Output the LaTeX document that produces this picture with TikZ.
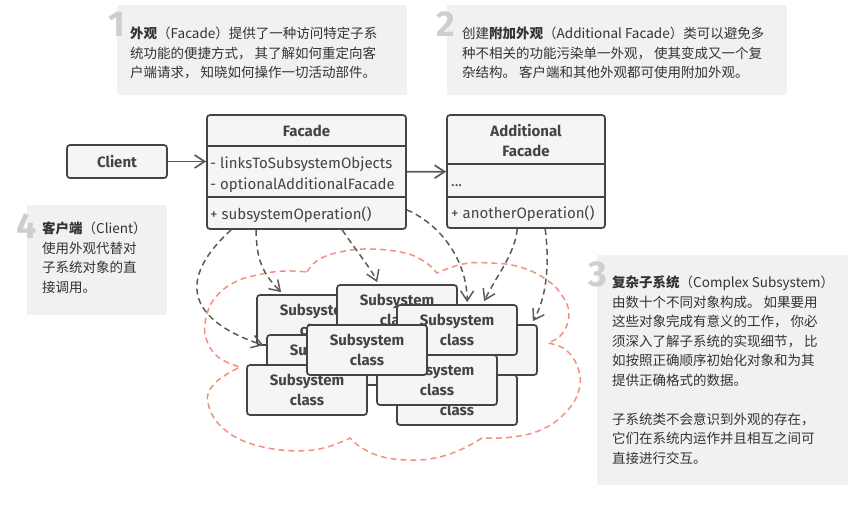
\documentclass[tikz,border=0pt]{standalone}
\usepackage{fontspec}
\setmainfont{Fira Sans}
\newfontfamily\cjk{Noto Sans CJK SC}
\usetikzlibrary{arrows.meta, calc}

\definecolor{boxline}{RGB}{68,68,68}
\definecolor{boxfill}{RGB}{245,245,245}
\definecolor{notefill}{RGB}{241,241,241}
\definecolor{notetext}{RGB}{51,51,51}
\definecolor{numgray}{RGB}{206,206,206}
\definecolor{linkgray}{RGB}{90,90,90}
\definecolor{cloudred}{RGB}{245,143,125}

\begin{document}
\begin{tikzpicture}[x=1pt, y=-1pt,
    classbox/.style={draw=boxline, fill=boxfill, line width=1.7pt, rounded corners=3pt,
        inner sep=0pt, text=boxline, font=\fontsize{15}{20}\selectfont\bfseries, align=center},
    subbox/.style={classbox, minimum width=120pt, minimum height=50pt},
    title/.style={inner sep=0pt, text=boxline, font=\fontsize{15}{20}\selectfont\bfseries, align=center},
    member/.style={inner sep=0pt, anchor=west, text=boxline, font=\fontsize{15}{21}\selectfont, align=left},
    sepline/.style={draw=boxline, line width=1.7pt},
    notetxt/.style={inner sep=0pt, anchor=north west, text=notetext,
        font=\cjk\fontsize{13.5}{19.5}\selectfont, align=left},
    notenum/.style={inner sep=0pt, anchor=base east, text=numgray, font=\fontsize{36}{36}\selectfont\bfseries},
    uses/.style={draw=linkgray, line width=1.7pt, -{Straight Barb[length=10pt,width=13pt]}},
    calls/.style={uses, line width=1.5pt, dash pattern=on 6pt off 4pt},
    cloudline/.style={draw=cloudred, line width=1.5pt, dash pattern=on 6pt off 4pt},
]
    \useasboundingbox (0,0) rectangle (848,504);

    % Notes
    \fill[notefill] (117,5) rectangle (407,95);
    \fill[notefill] (447,5) rectangle (787,95);
    \fill[notefill] (27,205) rectangle (167,315);
    \fill[notefill] (597,255) rectangle (848,485);

    \node[notenum] (num1) at (125,36) {1};
    \node[notenum] (num2) at (455,36) {2};
    \node[notenum] (num4) at (37,238) {4};
    \node[notenum] (num3) at (607,286) {3};

    \node[notetxt] (note1) at (130,27) {\textbf{外观}（Facade）提供了一种访问特定子系\\
        统功能的便捷方式， 其了解如何重定向客\\
        户端请求， 知晓如何操作一切活动部件。};
    \node[notetxt] (note2) at (462,27) {创建\textbf{附加外观}（Additional Facade）类可以避免多\\
        种不相关的功能污染单一外观， 使其变成又一个复\\
        杂结构。 客户端和其他外观都可使用附加外观。};
    \node[notetxt] (note4) at (42,222) {\textbf{客户端}（Client）\\
        使用外观代替对\\
        子系统对象的直\\
        接调用。};
    \node[notetxt] (note3) at (612,276) {\textbf{复杂子系统}（Complex Subsystem）\\
        由数十个不同对象构成。 如果要用\\
        这些对象完成有意义的工作， 你必\\
        须深入了解子系统的实现细节， 比\\
        如按照正确顺序初始化对象和为其\\
        提供正确格式的数据。\\[19.5pt]
        子系统类不会意识到外观的存在，\\
        它们在系统内运作并且相互之间可\\
        直接进行交互。};

    % Subsystem cloud
    \draw[cloudline] plot[smooth, tension=0.7] coordinates {(307,272) (318,260) (340,252) (370,249) (405,253) (425,262) (437,273)}
        -- plot[smooth, tension=0.7] coordinates {(437,273) (463,264) (490,263) (520,267) (547,280) (563,297) (569,315) (562,334) (548,343)}
        -- plot[smooth, tension=0.7] coordinates {(548,343) (566,350) (578,368) (579,390) (566,412) (543,429) (513,437) (482,438)}
        -- plot[smooth, tension=0.7] coordinates {(482,438) (460,450) (435,458) (410,460) (383,457) (362,448) (350,438)}
        -- plot[smooth, tension=0.7] coordinates {(350,438) (313,450) (263,447) (225,430) (208,403) (215,383) (240,367)}
        -- plot[smooth, tension=0.7] coordinates {(240,367) (218,357) (206,338) (206,318) (215,298) (235,282) (262,274) (285,271) (307,272)};

    % Client
    \node[classbox, minimum width=100pt, minimum height=33pt] (client) at (117,161.5) {Client};

    % Facade
    \node[classbox, minimum width=199pt, minimum height=114pt] (facade) at (306.5,172) {};
    \draw[sepline] ($(facade.north west)+(0,32)$) -- ($(facade.north east)+(0,32)$);
    \draw[sepline] ($(facade.north west)+(0,83)$) -- ($(facade.north east)+(0,83)$);
    \node[title] (facadetitle) at (306.5,131) {Facade};
    \node[member] (facadeattr) at (210,175) {- linksToSubsystemObjects\\- optionalAdditionalFacade};
    \node[member] (facadeop) at (210,215) {+ subsystemOperation()};

    % Additional Facade
    \node[classbox, minimum width=158pt, minimum height=113pt] (addl) at (526,171.5) {};
    \draw[sepline] ($(addl.north west)+(0,50)$) -- ($(addl.north east)+(0,50)$);
    \draw[sepline] ($(addl.north west)+(0,83)$) -- ($(addl.north east)+(0,83)$);
    \node[title] (addltitle) at (526,141) {Additional\\Facade};
    \node[member] (addlattr) at (451,186) {...};
    \node[member] (addlop) at (451,214) {+ anotherOperation()};

    % Subsystem classes, back to front
    \node[subbox] (sa) at (317,320) {Subsystem\\class};
    \node[subbox] (sb) at (397,310) {Subsystem\\class};
    \node[subbox] (sr) at (477,350) {Subsystem\\class};
    \node[subbox] (sc) at (457,330) {Subsystem\\class};
    \node[subbox] (sd) at (327,360) {Subsystem\\class};
    \node[subbox] (sf) at (457,400) {Subsystem\\class};
    \node[subbox] (sg) at (437,380) {Subsystem\\class};
    \node[subbox] (se) at (307,390) {Subsystem\\class};
    \node[subbox] (sh) at (367,350) {Subsystem\\class};

    % Links
    \draw[uses] (client) -- (client -| facade.west);
    \draw[uses] (facade) -- (addl);

    \draw[calls] ($(facade.south west)+(25,0)$) .. controls +(-55,50) and +(-75,-25) .. ($(sd.north west)+(-3,11)$);
    \draw[calls] ($(facade.south west)+(50,0)$) .. controls +(0,30) and +(-18,-18) .. ($(sa.north west)+(25,-2)$);
    \draw[calls] ($(facade.south west)+(136,0)$) .. controls +(12,18) and +(-5,-12) .. ($(sb.north west)+(41,-2)$);
    \draw[calls] ($(facade.south east)+(0,-20)$) .. controls +(35,15) and +(0,-40) .. ($(sc.north west)+(71,-2)$);
    \draw[calls] ($(addl.south west)+(71,0)$) .. controls +(-2,25) and +(12,-25) .. ($(sc.north west)+(88,-3)$);
    \draw[calls] ($(addl.south west)+(99,0)$) .. controls +(4,30) and +(15,-25) .. ($(sr.north east)+(-5,-3)$);

\end{tikzpicture}
\end{document}
